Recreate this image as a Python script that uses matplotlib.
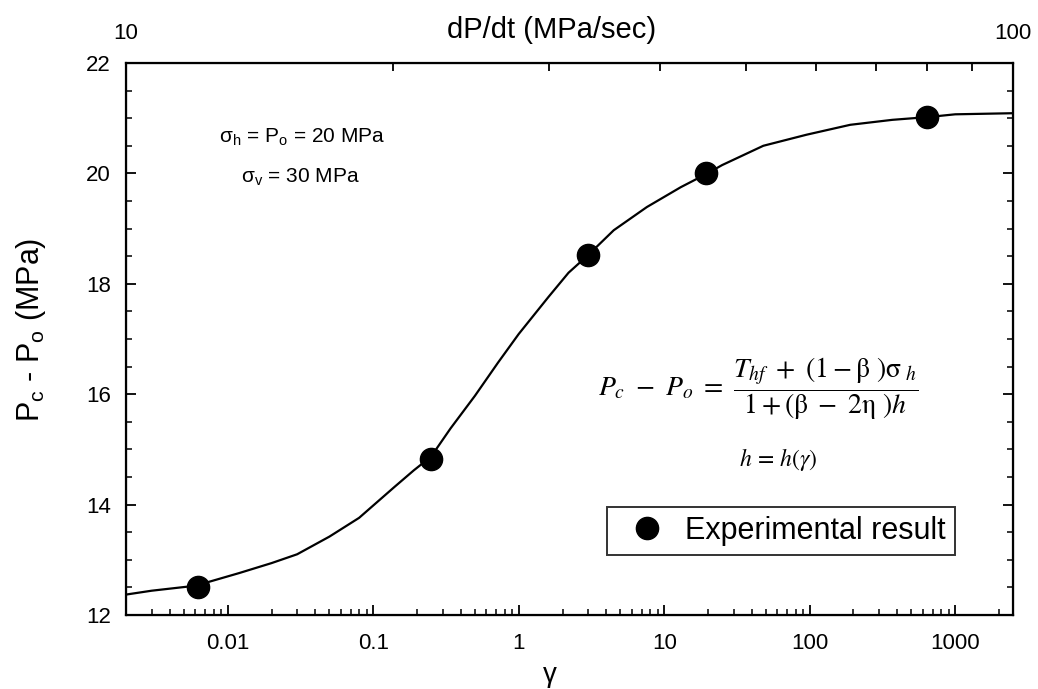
import matplotlib
matplotlib.use("Agg")
import matplotlib.pyplot as plt
from matplotlib.ticker import LogLocator, FixedLocator, NullFormatter, FixedFormatter

plt.rcParams['font.family'] = ['Liberation Sans', 'DejaVu Sans']
plt.rcParams['mathtext.fontset'] = 'custom'
plt.rcParams['mathtext.rm'] = 'Liberation Sans'
plt.rcParams['mathtext.it'] = 'Liberation Sans:italic'
plt.rcParams['mathtext.sf'] = 'Liberation Sans'

# experimental points
gamma_exp = [0.0062, 0.25, 3.0, 19.5, 640]
dp_exp = [12.5, 14.83, 18.52, 20.0, 21.02]

# model curve
gamma_fit = [0.002, 0.003, 0.006, 0.012, 0.02, 0.03, 0.05, 0.08, 0.14, 0.19,
             0.25, 0.34, 0.5, 0.72, 1.0, 1.6, 2.2, 3.0, 4.5, 7.6,
             13, 19.5, 25, 48, 95, 190, 370, 650, 1000, 2500]
dp_fit = [12.37, 12.44, 12.53, 12.76, 12.94, 13.10, 13.42, 13.76, 14.32, 14.62,
          14.87, 15.38, 15.97, 16.57, 17.09, 17.76, 18.20, 18.52, 18.97, 19.39,
          19.75, 19.99, 20.15, 20.50, 20.70, 20.88, 20.97, 21.02, 21.07, 21.09]

x_ticks = [0.01, 0.1, 1, 10, 100, 1000]
x_ticklabels = ['0.01', '0.1', '1', '10', '100', '1000']
y_ticks = [12, 14, 16, 18, 20, 22]
top_ticks = [10, 100]
top_minor = [20, 30, 40, 50, 60, 70, 80, 90]

fig = plt.figure(figsize=(10.38, 6.89), dpi=100)
ax = fig.add_axes([0.1214, 0.1074, 0.8546, 0.8012])

ax.plot(gamma_fit, dp_fit, color='black', lw=1.6, zorder=2)
ax.plot(gamma_exp, dp_exp, 'o', color='black', ms=16, zorder=3,
        label='Experimental result')

ax.set_xscale('log')
ax.set_xlim(0.002, 2500)
ax.set_ylim(12, 22)
ax.xaxis.set_major_locator(FixedLocator(x_ticks))
ax.xaxis.set_major_formatter(FixedFormatter(x_ticklabels))
ax.xaxis.set_minor_locator(LogLocator(base=10, subs=range(2, 10)))
ax.xaxis.set_minor_formatter(NullFormatter())
ax.set_yticks(y_ticks)
ax.set_yticks([v / 2 for v in range(24, 45)], minor=True)

ax.tick_params(axis='both', which='major', direction='in', length=7, width=1.3,
               labelsize=16)
ax.tick_params(axis='x', which='major', pad=13)
ax.tick_params(axis='y', which='major', pad=11)
ax.tick_params(axis='both', which='minor', direction='in', length=4, width=1.1)
ax.tick_params(axis='y', which='both', right=True)
ax.tick_params(axis='x', which='both', top=False)
for sp in ax.spines.values():
    sp.set_linewidth(1.6)

ax.set_xlabel('γ', fontsize=20)
ax.xaxis.set_label_coords(0.478, -0.085)
ax.set_ylabel(r'P$_\mathrm{c}$ - P$_\mathrm{o}$ (MPa)', fontsize=22)
ax.yaxis.set_label_coords(-0.088, 0.516)

# top axis: loading rate
top = ax.twiny()
top.set_xscale('log')
top.set_xlim(10, 100)
top.xaxis.set_major_locator(FixedLocator(top_ticks))
top.xaxis.set_major_formatter(FixedFormatter(['10', '100']))
top.xaxis.set_minor_locator(FixedLocator(top_minor))
top.xaxis.set_minor_formatter(NullFormatter())
top.tick_params(axis='x', which='major', direction='in', length=7, width=1.3,
                labelsize=16, pad=14)
top.tick_params(axis='x', which='minor', direction='in', length=6, width=1.3)
top.set_xlabel('dP/dt (MPa/sec)', fontsize=21)
top.xaxis.set_label_coords(0.48, 1.045)

ax.text(0.198, 0.866, r'σ$_\mathrm{h}$ = P$_\mathrm{o}$ = 20 MPa', transform=ax.transAxes,
        ha='center', va='center', fontsize=15)
ax.text(0.197, 0.793, r'σ$_\mathrm{v}$ = 30 MPa', transform=ax.transAxes,
        ha='center', va='center', fontsize=15)

ax.text(0.7125, 0.409,
        r'$P_c\ -\ P_o\ =\ \dfrac{T_{hf}\ +\ (1-\mathrm{\beta}\ )\mathrm{\sigma}_{\ h}}'
        r'{1+(\mathrm{\beta}\ -\ 2\mathrm{\eta}\ )h}$',
        transform=ax.transAxes, ha='center', va='center', fontsize=20,
        math_fontfamily='stix')
ax.text(0.735, 0.281, r'$h\,=\,h(\gamma)$', transform=ax.transAxes,
        ha='center', va='center', fontsize=17, math_fontfamily='stix')

leg = ax.legend(loc='upper left', bbox_to_anchor=(0.542, 0.196), borderaxespad=0,
                fontsize=22, frameon=True, fancybox=False, edgecolor='black',
                handlelength=2.0, handletextpad=0.25, borderpad=0.3)
leg.get_frame().set_linewidth(1.4)

fig.savefig('out.png', dpi=100)
